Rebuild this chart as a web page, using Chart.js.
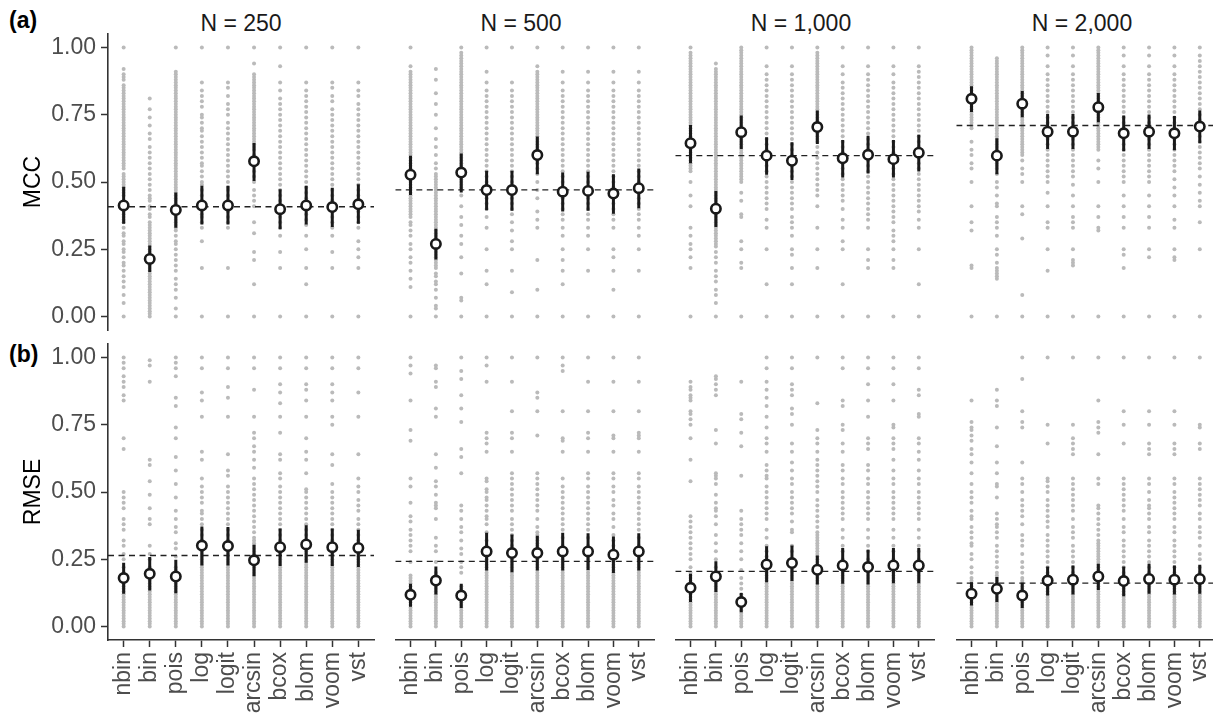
<!DOCTYPE html>
<html>
<head>
<meta charset="utf-8">
<script src="https://cdn.jsdelivr.net/npm/chart.js@4.4.0/dist/chart.umd.min.js"></script>
<style>
  body { margin: 0; width: 1213px; height: 716px; overflow: hidden; background: #fff; position: relative;
         font-family: "Liberation Sans", Arial, sans-serif; }
  canvas { position: absolute; }
  .lbl { position: absolute; font-size: 23px; line-height: 23px; white-space: nowrap; color: #1a1a1a; }
</style>
</head>
<body>
<div class="lbl" style="left:9px;top:9px;font-weight:bold;color:#000">(a)</div>
<div class="lbl" style="left:9px;top:343px;font-weight:bold;color:#000">(b)</div>
<script>
// --- data ---
const categories = ["nbin", "bin", "pois", "log", "logit", "arcsin", "bcox", "blom", "voom", "vst"];
const sizes = ["N = 250", "N = 500", "N = 1,000", "N = 2,000"];
const yTicks = [0, 0.25, 0.5, 0.75, 1];

// mean and interval per method, one row per N
const mccMean = [
  [0.413, 0.214, 0.396, 0.413, 0.413, 0.577, 0.399, 0.413, 0.407, 0.417],
  [0.527, 0.270, 0.535, 0.470, 0.470, 0.600, 0.464, 0.467, 0.457, 0.477],
  [0.644, 0.401, 0.685, 0.598, 0.579, 0.704, 0.588, 0.601, 0.585, 0.609],
  [0.809, 0.598, 0.791, 0.687, 0.687, 0.778, 0.681, 0.687, 0.681, 0.706]
];
const mccLo = [
  [0.345, 0.166, 0.330, 0.342, 0.342, 0.504, 0.324, 0.342, 0.333, 0.345],
  [0.452, 0.212, 0.461, 0.395, 0.393, 0.529, 0.390, 0.393, 0.382, 0.402],
  [0.570, 0.333, 0.623, 0.527, 0.507, 0.641, 0.517, 0.532, 0.517, 0.539],
  [0.760, 0.529, 0.741, 0.623, 0.623, 0.722, 0.614, 0.623, 0.618, 0.644]
];
const mccHi = [
  [0.482, 0.264, 0.461, 0.486, 0.486, 0.645, 0.473, 0.486, 0.479, 0.492],
  [0.598, 0.326, 0.606, 0.542, 0.542, 0.669, 0.535, 0.538, 0.529, 0.550],
  [0.712, 0.467, 0.747, 0.666, 0.648, 0.766, 0.656, 0.672, 0.656, 0.676],
  [0.856, 0.663, 0.838, 0.753, 0.753, 0.831, 0.747, 0.751, 0.745, 0.766]
];
const mccRef = [0.408, 0.471, 0.598, 0.710];

const rmseMean = [
  [0.180, 0.196, 0.186, 0.301, 0.299, 0.246, 0.295, 0.305, 0.295, 0.292],
  [0.118, 0.171, 0.115, 0.279, 0.273, 0.273, 0.279, 0.279, 0.267, 0.279],
  [0.144, 0.186, 0.091, 0.231, 0.236, 0.211, 0.227, 0.221, 0.227, 0.227],
  [0.122, 0.140, 0.115, 0.171, 0.174, 0.186, 0.169, 0.177, 0.174, 0.177]
];
const rmseLo = [
  [0.122, 0.134, 0.124, 0.227, 0.227, 0.187, 0.225, 0.237, 0.225, 0.221],
  [0.074, 0.119, 0.069, 0.208, 0.202, 0.208, 0.208, 0.210, 0.199, 0.208],
  [0.091, 0.128, 0.053, 0.165, 0.169, 0.156, 0.159, 0.156, 0.161, 0.161],
  [0.078, 0.091, 0.069, 0.115, 0.119, 0.136, 0.113, 0.122, 0.119, 0.122]
];
const rmseHi = [
  [0.237, 0.258, 0.248, 0.372, 0.370, 0.304, 0.364, 0.376, 0.364, 0.360],
  [0.159, 0.223, 0.159, 0.349, 0.342, 0.337, 0.349, 0.347, 0.335, 0.347],
  [0.196, 0.243, 0.125, 0.298, 0.301, 0.264, 0.292, 0.285, 0.292, 0.292],
  [0.165, 0.184, 0.163, 0.223, 0.227, 0.233, 0.223, 0.233, 0.227, 0.230]
];
const rmseRef = [0.264, 0.242, 0.205, 0.161];

// individual results (in hundredths), one string per method
const mccDots250 = [
  "0 5 8 11 13 15 17 19 20 22 24 25 27 28 30 31 33 35 36 37 38 39 40 41 42 43 45 46 47 48 49 50 51 52 53 55 56 57 58 59 60 61 62 63 64 65 66 67 68 69 70 71 72 73 74 75 76 77 78 79 80 81 82 83 84 85 86 88 89 90 92 100",
  "0 1 2 3 4 5 6 7 8 9 10 11 12 13 14 15 16 17 18 19 20 21 22 23 24 25 26 27 28 29 30 31 32 33 34 35 37 38 40 41 43 44 45 47 49 51 53 55 57 59 61 63 66 68 71 74 77 81",
  "0 3 7 10 12 14 17 19 21 23 25 27 28 30 32 33 34 35 36 37 38 39 40 41 42 43 44 45 46 47 48 49 50 51 52 53 54 55 56 57 58 59 60 61 62 63 64 65 66 67 68 69 70 71 72 73 74 75 76 77 78 79 80 81 82 83 84 85 86 87 88 89 90 91 100",
  "0 18 28 33 35 37 38 40 42 43 45 47 49 50 52 54 56 57 59 61 63 65 67 69 70 72 74 75 78 80 82 84 87 100",
  "0 18 33 35 37 39 41 43 45 47 48 50 52 54 56 58 60 62 64 66 68 70 72 75 77 79 82 85 87 100",
  "0 12 21 24 31 35 41 43 45 47 50 52 54 56 58 60 62 63 64 65 66 67 68 69 70 71 72 73 74 75 76 77 78 79 80 81 82 83 84 85 86 87 88 89 90 94 100",
  "0 18 24 30 33 35 37 39 41 43 45 47 49 51 53 55 57 59 61 63 65 67 69 71 73 75 77 79 81 84 87 93 100",
  "0 12 18 25 30 34 36 38 40 42 44 46 48 50 52 54 56 58 60 62 64 66 68 70 72 74 76 78 80 82 84 87 100",
  "0 18 24 30 33 35 37 39 41 43 45 47 49 51 53 55 57 59 61 63 65 67 69 71 73 75 77 80 82 85 87 100",
  "0 18 22 25 28 33 35 37 39 41 43 45 47 49 51 53 55 57 59 61 63 65 67 69 71 73 75 77 79 82 84 87 100"
];
const mccDots500 = [
  "0 11 14 17 20 22 25 27 30 32 34 35 37 38 39 40 41 42 43 44 45 46 47 48 49 50 51 52 53 54 55 56 57 58 59 60 61 62 63 64 65 66 67 68 69 70 71 72 73 74 75 76 77 78 79 80 81 82 83 84 85 86 87 88 89 90 91 93 100",
  "0 3 4 7 10 12 13 15 16 18 19 20 21 22 23 24 25 26 27 28 29 30 31 32 33 34 35 36 37 38 39 40 41 42 43 44 45 46 47 48 49 50 51 52 53 55 57 60 63 66 70 75 79 83 88 92",
  "0 6 7 16 22 27 30 34 37 41 45 48 49 50 51 52 53 54 55 56 57 58 59 60 61 62 63 64 65 66 67 68 69 70 71 72 73 74 75 76 77 78 79 80 81 82 83 84 85 86 87 88 89 90 91 92 93 94 95 96 97 98 100",
  "0 12 17 25 33 37 40 42 44 46 48 50 52 54 56 58 60 62 64 66 68 70 72 74 76 78 80 82 84 87 91 100",
  "0 9 17 25 28 32 35 38 40 42 44 46 48 50 52 54 56 58 60 62 64 66 68 70 72 74 76 78 80 82 84 87 100",
  "0 10 21 33 36 39 44 47 50 53 55 57 58 59 60 61 62 63 64 65 66 67 68 69 70 71 72 73 74 75 76 77 78 79 80 81 82 83 84 85 86 87 88 89 90 91 93 100",
  "0 12 17 21 25 30 33 36 38 40 42 44 46 48 50 52 54 56 58 60 62 64 66 68 70 72 74 76 78 80 82 84 87 91 100",
  "0 17 25 30 33 36 38 40 42 44 46 48 50 52 54 56 58 60 62 64 66 68 70 72 74 76 78 80 82 84 87 91 100",
  "0 10 17 22 25 33 36 38 40 42 44 46 48 50 52 54 56 58 60 62 64 66 68 70 72 74 76 78 80 82 84 87 91 100",
  "0 17 25 30 33 36 38 40 42 44 46 48 50 52 54 56 58 60 62 64 66 68 70 72 74 76 78 80 82 84 87 91 100"
];
const mccDots1000 = [
  "0 18 22 25 27 30 33 41 45 50 54 55 56 57 58 59 60 61 62 63 64 65 66 67 68 69 70 71 72 73 74 75 76 77 78 79 80 81 82 83 84 85 86 87 88 89 90 91 92 93 94 95 96 97 98 100",
  "0 5 8 10 13 15 17 20 22 24 26 27 28 29 30 31 32 33 34 35 36 37 38 39 40 41 42 43 44 45 46 47 48 49 50 51 52 53 54 55 56 57 58 59 60 61 62 63 64 65 66 67 68 69 70 71 72 73 74 75 76 77 78 79 80 81 82 83 84 85 86 87 88 89 90 91 92 94",
  "0 18 20 25 28 37 38 43 46 50 51 52 53 54 55 56 57 58 59 60 61 62 63 64 65 66 67 68 69 70 71 72 73 74 75 76 77 78 79 80 81 82 83 84 85 86 87 88 89 90 91 92 93 94 95 96 97 98 99 100",
  "0 12 25 33 36 40 42 44 46 48 50 52 54 56 58 60 62 64 66 68 70 72 74 76 78 80 82 84 86 88 90 93 100",
  "0 12 18 23 25 30 33 35 37 40 42 44 46 48 50 52 54 56 58 60 62 64 66 68 70 72 74 76 78 80 82 84 86 88 90 93 100",
  "0 18 25 33 41 45 47 49 51 53 55 57 59 61 63 65 66 67 68 69 70 71 72 73 74 75 76 77 78 79 80 81 82 83 84 85 86 87 88 89 90 91 92 93 94 95 96 97 98 100",
  "0 12 25 28 33 36 40 43 45 47 49 51 53 55 57 59 61 63 65 67 69 71 73 75 77 79 81 83 85 87 90 93 100",
  "0 18 21 25 33 36 38 40 42 44 46 48 50 52 54 56 58 60 62 64 66 68 70 72 74 76 78 80 82 84 86 88 90 93 100",
  "0 18 21 25 28 30 32 35 37 39 41 43 45 47 49 51 53 55 57 59 61 63 65 67 69 71 73 75 77 79 81 83 85 87 90 93 100",
  "0 12 25 33 36 39 41 43 45 47 49 51 53 55 57 59 61 63 65 67 69 71 73 75 77 79 81 83 85 87 89 91 93 100"
];
const mccDots2000 = [
  "0 18 19 32 35 41 50 55 57 60 62 65 70 71 72 73 74 75 76 77 78 79 80 81 82 83 84 85 86 87 88 89 90 91 92 93 94 95 96 97 98 99 100",
  "0 14 15 16 17 18 20 23 25 30 33 35 37 41 42 45 48 50 53 55 56 57 58 59 60 61 62 63 64 65 66 67 68 69 70 71 72 73 74 75 76 77 78 79 80 81 82 83 84 85 86 87 88 89 90 91 92 93 94 95 96",
  "0 8 29 38 41 50 53 55 58 60 61 62 63 64 65 66 67 68 69 70 71 72 73 74 75 76 77 78 79 80 81 82 83 84 85 86 87 88 89 90 91 92 93 94 95 96 97 98 99 100",
  "0 17 25 33 35 41 46 50 52 54 56 58 60 62 64 66 68 70 72 74 76 78 80 82 84 86 88 90 93 97 100",
  "0 19 20 21 25 33 35 37 41 45 49 52 54 56 58 60 62 64 66 68 70 72 74 76 78 80 82 84 86 88 90 93 97 100",
  "0 32 33 37 41 50 55 58 62 63 64 65 66 67 68 69 70 71 72 73 74 75 76 77 78 79 80 81 82 83 84 85 86 87 88 89 90 91 92 93 94 95 96 97 98 99 100",
  "0 18 23 25 33 37 41 45 50 52 54 56 58 60 62 64 66 68 70 72 74 76 78 80 82 84 86 88 90 93 97 100",
  "0 22 25 33 37 41 45 50 52 54 56 58 60 62 64 66 68 70 72 74 76 78 80 82 84 86 88 90 93 97 100",
  "0 21 22 25 33 36 41 45 48 51 54 56 58 60 62 64 66 68 70 72 74 76 78 80 82 84 86 88 90 93 97 100",
  "0 25 35 41 43 46 49 52 55 57 59 61 63 65 67 69 71 73 75 77 79 81 83 85 87 89 91 93 95 97 100"
];

const rmseDots250 = [
  "0 1 2 3 4 5 6 7 8 9 10 11 12 13 14 15 16 17 18 19 20 22 25 27 30 32 36 38 40 44 46 48 50 66 70 84 86 89 91 93 96 98 100",
  "0 1 2 3 4 5 6 7 8 9 10 11 12 13 14 15 16 17 18 19 20 22 25 27 30 38 40 44 49 54 60 62 91 97 99",
  "0 1 2 3 4 5 6 7 8 9 10 11 12 13 14 15 16 17 18 19 20 21 22 26 29 31 35 37 40 43 48 53 58 63 70 74 82 85 93 96 98 100",
  "0 1 2 3 4 5 6 7 8 9 10 11 12 13 14 15 16 17 18 19 20 21 22 23 24 25 26 27 28 30 32 34 36 38 40 42 43 46 48 50 52 55 62 65 78 84 87 96 100",
  "0 1 2 3 4 5 6 7 8 9 10 11 12 13 14 15 16 17 18 19 20 21 22 23 24 25 26 27 28 30 32 34 36 38 40 42 44 46 48 50 52 56 58 64 78 85 89 96 100",
  "0 1 2 3 4 5 6 7 8 9 10 11 12 13 14 15 16 17 18 19 20 21 22 23 24 25 26 27 28 29 30 31 32 33 35 37 39 41 43 45 47 49 51 53 55 59 62 65 67 70 72 78 88 96 100",
  "0 1 2 3 4 5 6 7 8 9 10 11 12 13 14 15 16 17 18 19 20 21 22 23 24 25 26 27 28 30 32 34 36 38 40 42 44 46 48 50 52 55 57 62 64 72 78 83 87 90 96 100",
  "0 1 2 3 4 5 6 7 8 9 10 11 12 13 14 15 16 17 18 19 20 21 22 23 24 25 26 27 28 30 32 34 36 38 40 42 44 46 48 50 51 57 62 65 70 78 84 88 90 96 100",
  "0 1 2 3 4 5 6 7 8 9 10 11 12 13 14 15 16 17 18 19 20 21 22 23 24 25 26 27 28 30 32 34 36 38 40 42 44 46 48 50 53 60 64 75 78 84 87 90 96 100",
  "0 1 2 3 4 5 6 7 8 9 10 11 12 13 14 15 16 17 18 19 20 21 22 23 24 25 26 27 28 30 32 34 36 38 40 43 45 47 50 52 55 64 78 87 96 100"
];
const rmseDots500 = [
  "0 1 2 3 4 5 6 7 8 9 10 11 12 13 14 15 16 17 18 19 24 28 30 32 34 36 39 41 46 52 55 69 73 84 94 97 100",
  "0 1 2 3 4 5 6 7 8 9 10 11 12 13 14 15 16 17 18 19 20 24 28 30 33 40 44 45 46 49 52 54 59 64 78 81 89 91 96 97",
  "0 1 2 3 4 5 6 7 8 9 10 11 12 13 14 15 20 22 24 27 29 32 35 37 40 43 45 57 63 66 76 81 86 92 95 100",
  "0 1 2 3 4 5 6 7 8 9 10 11 12 13 14 15 16 17 18 19 20 21 22 23 24 25 26 27 28 30 32 35 38 40 41 43 45 47 48 50 51 54 55 65 68 70 72 91 97 100",
  "0 1 2 3 4 5 6 7 8 9 10 11 12 13 14 15 16 17 18 19 20 21 22 23 24 25 26 27 28 30 32 34 36 38 40 43 45 47 49 51 53 55 57 65 70 72 80 91 100",
  "0 1 2 3 4 5 6 7 8 9 10 11 12 13 14 15 16 17 18 19 20 21 22 23 24 25 26 27 28 29 30 31 32 33 34 35 37 40 43 45 47 49 51 53 55 57 71 80 85 87 100",
  "0 1 2 3 4 5 6 7 8 9 10 11 12 13 14 15 16 17 18 19 20 21 22 23 24 25 26 27 28 30 33 36 38 40 42 44 46 48 50 52 55 65 69 70 80 95 97 100",
  "0 1 2 3 4 5 6 7 8 9 10 11 12 13 14 15 16 17 18 19 20 21 22 23 24 25 26 27 28 30 33 36 38 40 42 44 46 48 50 52 55 57 65 70 72 80 91 100",
  "0 1 2 3 4 5 6 7 8 9 10 11 12 13 14 15 16 17 18 19 20 21 22 23 24 25 26 27 28 30 32 34 37 40 42 45 47 50 52 55 57 65 70 71 80 91 100",
  "0 1 2 3 4 5 6 7 8 9 10 11 12 13 14 15 16 17 18 19 20 21 22 23 24 25 26 27 28 30 33 36 38 40 42 44 46 48 50 52 55 57 65 70 71 72 80 91 100"
];
const rmseDots1000 = [
  "0 1 2 3 4 5 6 7 8 9 10 11 12 13 14 15 16 17 18 19 20 22 25 27 29 31 33 35 37 39 41 54 62 70 75 77 79 80 84 85 86 88 89 91",
  "0 1 2 3 4 5 6 7 8 9 10 11 12 13 14 15 16 17 18 19 20 22 25 28 31 34 38 41 43 44 46 49 53 55 56 57 68 73 86 88 90 92 93",
  "0 1 2 3 4 5 6 7 8 9 10 11 12 14 16 18 21 25 28 31 34 36 38 40 43 56 67 72 77 79 91",
  "0 1 2 3 4 5 6 7 8 9 10 11 12 13 14 15 16 17 18 19 20 21 22 24 26 28 30 33 36 40 42 44 46 48 50 52 55 56 58 60 65 68 70 74 78 82 85 88 91 96 100",
  "0 1 2 3 4 5 6 7 8 9 10 11 12 13 14 15 16 17 18 19 20 21 23 25 28 30 35 36 39 42 44 46 48 50 53 55 58 61 65 68 75 79 81 86 88 90 96 100",
  "0 1 2 3 4 5 6 7 8 9 10 11 12 13 14 15 16 17 18 19 20 21 22 23 24 25 26 27 28 29 30 31 32 33 34 35 37 39 41 43 45 47 50 52 54 56 58 60 62 65 68 70 73 83 100",
  "0 1 2 3 4 5 6 7 8 9 10 11 12 13 14 15 16 17 18 19 20 21 23 25 28 30 33 36 40 42 44 46 48 50 53 55 58 60 65 68 73 75 82 84 96 100",
  "0 1 2 3 4 5 6 7 8 9 10 11 12 13 14 15 16 17 18 19 20 21 23 25 28 30 33 36 40 42 44 46 48 50 53 55 58 60 66 68 70 78 84 90 96 100",
  "0 1 2 3 4 5 6 7 8 9 10 11 12 13 14 15 16 17 18 19 20 21 23 25 28 30 33 36 40 42 44 46 48 50 53 55 58 62 66 68 70 74 75 84 90 96 100",
  "0 1 2 3 4 5 6 7 8 9 10 11 12 13 14 15 16 17 18 19 20 21 23 25 28 30 33 36 40 42 44 46 48 50 53 55 58 62 65 68 70 78 79 86 88 96 100"
];
const rmseDots2000 = [
  "0 1 2 3 4 5 6 7 8 9 10 11 12 13 14 15 16 17 18 20 22 25 27 30 31 33 35 37 40 41 43 46 48 50 53 57 61 64 66 69 71 73 74 76 84",
  "0 1 2 3 4 5 6 7 8 9 10 11 12 13 14 15 16 17 18 19 20 22 24 26 28 30 33 35 37 38 40 42 48 52 53 57 61 67 74 82 84 88",
  "0 1 2 3 4 5 6 7 8 9 10 11 12 13 14 15 16 17 18 20 22 24 27 30 32 34 38 41 43 45 47 50 53 55 61 74 76 80 92 100",
  "0 1 2 3 4 5 6 7 8 9 10 11 12 13 14 15 16 17 18 19 20 22 24 26 28 30 32 34 37 39 41 43 45 47 50 52 54 55 68 75 100",
  "0 1 2 3 4 5 6 7 8 9 10 11 12 13 14 15 16 17 18 19 20 22 24 26 28 30 33 35 37 40 43 45 47 49 51 53 55 64 66 68 70 75 100",
  "0 1 2 3 4 5 6 7 8 9 10 11 12 13 14 15 16 17 18 19 20 21 22 23 24 25 26 27 28 29 30 31 32 34 36 38 40 42 44 45 53 55 64 72 74 76 84 100",
  "0 1 2 3 4 5 6 7 8 9 10 11 12 13 14 15 16 17 18 19 20 22 24 26 28 30 32 35 37 40 43 45 47 49 51 53 55 68 75 80 100",
  "0 1 2 3 4 5 6 7 8 9 10 11 12 13 14 15 16 17 18 19 20 22 24 26 28 30 32 35 37 40 42 44 45 47 50 53 55 64 66 68 75 80 100",
  "0 1 2 3 4 5 6 7 8 9 10 11 12 13 14 15 16 17 18 19 20 22 24 26 28 30 32 35 37 40 42 44 46 48 50 53 55 64 66 68 75 80 100",
  "0 1 2 3 4 5 6 7 8 9 10 11 12 13 14 15 16 17 18 19 20 22 25 27 30 33 35 37 40 42 45 47 49 51 53 55 66 68 74 75 100"
];

const mccDots = [mccDots250, mccDots500, mccDots1000, mccDots2000];
const rmseDots = [rmseDots250, rmseDots500, rmseDots1000, rmseDots2000];

// --- layout ---
const panelLeft = [108, 388, 668, 949];
const panelWidth = 266;
const rowTop = [34, 344];
const plotHeight = 296;
const axisWidth = 108;

Chart.defaults.font.family = '"Liberation Sans", Arial, sans-serif';
Chart.defaults.font.size = 23;

function makePanel(row, col, dots, mean, lo, hi, ref) {
  const showY = col === 0;
  const showX = row === 1;
  const lm = showY ? axisWidth : 0;
  const bottomRoom = showX ? 80 : 20;
  const canvas = document.createElement('canvas');
  canvas.width = lm + panelWidth + 20;
  canvas.height = 20 + plotHeight + bottomRoom;
  canvas.style.left = (panelLeft[col] - lm) + 'px';
  canvas.style.top = (rowTop[row] - 20) + 'px';
  document.body.appendChild(canvas);

  const greyPts = [];
  dots.forEach((s, i) => {
    s.trim().split(/\s+/).forEach(v => greyPts.push({ x: i, y: Number(v) / 100 }));
  });
  const barPts = [];
  lo.forEach((v, i) => {
    barPts.push({ x: i, y: v }, { x: i, y: hi[i] }, { x: i, y: null });
  });

  const tickGrid = { drawOnChartArea: false, drawTicks: true, tickLength: 7, tickColor: '#333', tickWidth: 1.5 };
  const axisBorder = { display: true, color: '#333', width: 1.6 };

  new Chart(canvas, {
    type: 'scatter',
    data: {
      datasets: [
        {
          data: mean.map((v, i) => ({ x: i, y: v })),
          pointRadius: 4.7,
          pointBackgroundColor: '#fff',
          pointBorderColor: '#1a1a1a',
          pointBorderWidth: 2.6,
          order: 0
        },
        {
          type: 'line',
          data: barPts,
          borderColor: '#1a1a1a',
          borderWidth: 3,
          pointRadius: 0,
          spanGaps: false,
          order: 1
        },
        {
          type: 'line',
          data: [{ x: -0.6, y: ref }, { x: 9.6, y: ref }],
          borderColor: '#222',
          borderWidth: 1.3,
          borderDash: [6, 4.5],
          pointRadius: 0,
          order: 2
        },
        {
          data: greyPts,
          pointRadius: 2,
          pointBackgroundColor: '#bababa',
          pointBorderWidth: 0,
          order: 3
        }
      ]
    },
    options: {
      responsive: false,
      animation: false,
      events: [],
      layout: { padding: { top: 20, right: 20, bottom: showX ? 0 : 20, left: 0 } },
      plugins: { legend: { display: false }, tooltip: { enabled: false } },
      scales: {
        x: {
          type: 'linear',
          min: -0.6,
          max: 9.6,
          display: showX,
          afterBuildTicks: s => { s.ticks = categories.map((_, i) => ({ value: i })); },
          afterFit: s => { if (showX) s.height = 80; },
          ticks: {
            callback: v => categories[v],
            autoSkip: false,
            minRotation: 90,
            maxRotation: 90,
            padding: 5,
            color: '#4d4d4d'
          },
          grid: tickGrid,
          border: axisBorder
        },
        y: {
          type: 'linear',
          min: -0.05,
          max: 1.05,
          display: showY,
          afterBuildTicks: s => { s.ticks = yTicks.map(v => ({ value: v })); },
          afterFit: s => { if (showY) s.width = axisWidth; },
          ticks: {
            callback: v => v.toFixed(2),
            padding: 5,
            color: '#4d4d4d'
          },
          grid: tickGrid,
          border: axisBorder,
          title: {
            display: true,
            text: row === 0 ? 'MCC' : 'RMSE',
            color: '#000',
            padding: { top: 20, bottom: 0 }
          }
        }
      }
    }
  });
}

// strip titles
sizes.forEach((t, c) => {
  const d = document.createElement('div');
  d.className = 'lbl';
  d.style.left = panelLeft[c] + 'px';
  d.style.width = panelWidth + 'px';
  d.style.textAlign = 'center';
  d.style.top = '12px';
  d.textContent = t;
  document.body.appendChild(d);
});

for (let c = 0; c < 4; c++) {
  makePanel(0, c, mccDots[c], mccMean[c], mccLo[c], mccHi[c], mccRef[c]);
  makePanel(1, c, rmseDots[c], rmseMean[c], rmseLo[c], rmseHi[c], rmseRef[c]);
}
</script>
</body>
</html>
